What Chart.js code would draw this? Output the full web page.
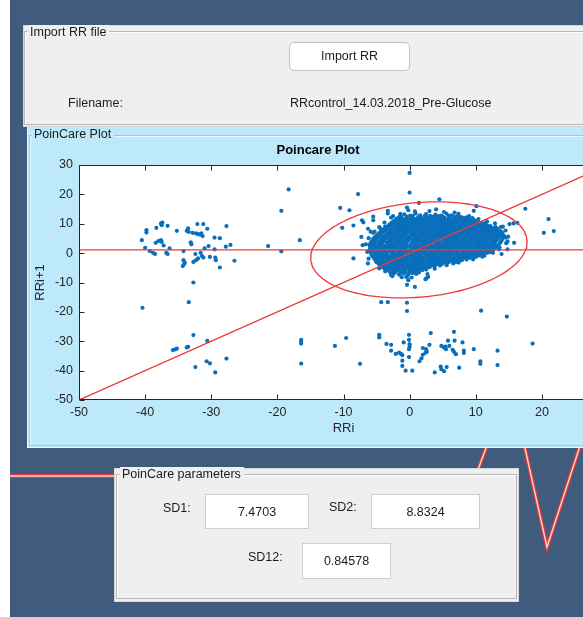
<!DOCTYPE html>
<html>
<head>
<meta charset="utf-8">
<script src="https://cdn.jsdelivr.net/npm/chart.js@4.4.1/dist/chart.umd.min.js"></script>
<style>
html, body { margin: 0; padding: 0; width: 583px; height: 617px; overflow: hidden; background: #ffffff; }
body { position: relative; font-family: "Liberation Sans", Arial, Helvetica, sans-serif; color: #1c1c1c; font-size: 12.5px; }
.abs { position: absolute; }
#bg { left: 10px; top: 0; width: 640px; height: 617px; background: #3f5c7f; }
#ecg { left: 0; top: 0; }
.panel { position: absolute; box-sizing: border-box; }
.grey { background: #efefef; border: 1px solid #d6d6d6; }
.frame { position: absolute; box-sizing: border-box; border: 1px solid #b8b8b8; box-shadow: inset 1px 1px 0 #ffffff; }
.ptitle { position: absolute; line-height: 14px; padding: 0 3px 0 2px; white-space: nowrap; }
.lbl { position: absolute; line-height: 14px; white-space: nowrap; }
.box { position: absolute; box-sizing: border-box; background: #ffffff; border: 1px solid #cdcdcd; text-align: center; }
#btn { left: 289px; top: 42px; width: 121px; height: 29px; background: #ffffff; border: 1px solid #c4c4c4; border-radius: 5px; box-sizing: border-box; text-align: center; line-height: 27px; }
#plotPanel { left: 27px; top: 127px; width: 640px; height: 321px; background: #bee9fb; border-left: 1px solid #e6f6fd; border-bottom: 1px solid #e6f6fd; }
#chartWrap { left: 28px; top: 128px; width: 612px; height: 320px; }
</style>
</head>
<body>
<div id="bg" class="abs"></div>
<canvas id="ecg" class="abs" width="583" height="617"></canvas>

<!-- file import group -->
<div class="panel grey" style="left:23px;top:25px;width:640px;height:102px;"></div>
<div class="frame" style="left:24px;top:31px;width:640px;height:94px;"></div>
<div class="ptitle" style="left:28px;top:25px;background:#efefef;">Import RR file</div>
<div id="btn" class="abs">Import RR</div>
<div class="lbl" style="left:68px;top:96px;">Filename:</div>
<div class="lbl" style="left:290px;top:96px;" id="fname"></div>

<!-- plot group -->
<div id="plotPanel" class="panel"></div>
<div class="frame" style="left:29px;top:135px;width:640px;height:311px;border-color:#a9c6d3;box-shadow: inset 1px 1px 0 #e9f8fe;"></div>
<div class="ptitle" style="left:32px;top:127px;background:#bee9fb;">PoinCare Plot</div>
<div id="chartWrap" class="abs"><canvas id="chart" width="612" height="320"></canvas></div>

<!-- parameter group -->
<div class="panel grey" style="left:114px;top:468px;width:405px;height:134px;"></div>
<div class="frame" style="left:116px;top:474px;width:401px;height:125px;"></div>
<div class="ptitle" style="left:120px;top:467px;background:#efefef;">PoinCare parameters</div>
<div class="lbl" style="left:163px;top:501px;">SD1:</div>
<div class="box" style="left:205px;top:494px;width:104px;height:35px;line-height:35px;" id="sd1"></div>
<div class="lbl" style="left:329px;top:500px;">SD2:</div>
<div class="box" style="left:371px;top:494px;width:109px;height:35px;line-height:35px;" id="sd2"></div>
<div class="lbl" style="left:248px;top:550px;">SD12:</div>
<div class="box" style="left:302px;top:543px;width:89px;height:36px;line-height:35px;" id="sd12"></div>

<script>
// ---- recording and summary values ----
const fileName = 'RRcontrol_14.03.2018_Pre-Glucose';
const SD1 = 7.4703;
const SD2 = 8.8324;
const SD12 = 0.84578;
const centerRR = [1.4, 1.1];          // mean RRi, mean RRi+1
const xTicks = [-50, -40, -30, -20, -10, 0, 10, 20, 30];
const yTicks = [-50, -40, -30, -20, -10, 0, 10, 20, 30];
const lineRange = [-50, 30];

// ---- successive differences: [RRi, RRi+1] ----
const leftGroup = [
  [-40.5,4.4],[-40.0,1.8],[-39.8,7.8],[-39.8,7.0],[-39.3,0.7],[-38.8,0.1],[-38.5,-0.3],[-38.3,8.6],
  [-38.4,3.5],[-38.0,4.1],[-37.6,4.4],[-37.5,3.8],[-37.6,10.1],[-37.5,9.5],[-37.4,10.4],[-37.2,2.6],
  [-36.6,9.3],[-36.8,0.1],[-36.6,-0.3],[-36.3,1.6],[-35.2,7.6],[-34.2,0.7],[-33.5,8.4],[-33.4,7.2],
  [-33.7,7.6],[-32.8,6.9],[-32.3,6.7],[-32.0,6.5],[-31.7,6.3],[-32.1,9.9],[-31.2,9.9],[-31.5,6.7],
  [-31.3,5.8],[-30.6,8.3],[-33.1,3.7],[-33.0,3.0],[-34.2,-2.4],[-34.0,-3.3],[-34.3,-4.4],[-34.1,-3.7],
  [-32.7,-3.0],[-32.3,-2.4],[-32.0,-1.8],[-32.4,-0.3],[-31.6,0.1],[-31.4,-1.0],[-31.2,-1.5],[-31.0,1.6],
  [-30.4,2.4],[-30.2,-1.3],[-29.5,1.3],[-29.3,-2.4],[-29.4,-1.5],[-29.5,5.3],[-28.7,5.1],[-28.7,-4.9],
  [-27.8,2.2],[-27.1,2.8],[-27.7,9.2],[-26.5,-2.6]
];
const scattered = [
  [-21.4,2.4],[-19.4,14.4],[-19.4,0.6],[-18.3,21.7],[-16.6,4.4],[-40.4,-18.6],[-32.7,-10.0],[-33.4,-16.7],
  [-10.5,15.4],[-9.1,14.6],[-7.8,20.1],[-10.2,8.6],[-8.5,9.4],[-8.5,-1.8],[-7.2,11.2],[-7.0,10.5],
  [-5.5,12.4],[-5.5,11.2],[-3.3,14.4],[-3.3,13.5],[-6.3,8.3],[-5.9,7.3],[-5.5,6.9],[-7.3,5.5],
  [-7.1,2.7],[-6.3,-3.5],[-0.4,15.5],[-0.2,14.6],[1.4,17.1],[-2.5,12.6],[-1.5,12.4],[-4.4,8.3],
  [-3.7,9.0],[0.0,27.3],[0.0,20.6],[-0.5,-8.1],[-0.2,-9.2],[-0.4,-10.8],[0.8,-11.5],[2.4,-8.9],
  [2.8,-8.1],[-3.0,-6.4],[-2.8,-7.5],[4.5,18.3],[17.5,15.1],[21.0,11.6],[20.3,6.9],[21.8,7.5],
  [10.1,16.0],[9.7,14.4],[15.8,3.5],[13.9,-0.3],[11.0,-1.2],[14.8,1.3],[13.6,1.9],[15.1,9.9],
  [15.7,10.1],[16.3,10.3],[14.1,9.0],[14.5,5.3],[14.8,4.0],[2.5,-8.6],[2.7,-7.1],[7.9,-2.4],
  [7.0,-3.0],[6.6,-3.5],[6.8,13.8],[4.0,14.9]
];
const lowerGroup = [
  [-32.7,-27.9],[-30.6,-29.9],[-35.8,-33.0],[-35.5,-32.8],[-35.2,-32.5],[-33.7,-32.1],[-33.5,-31.9],
  [-32.4,-38.8],[-30.7,-36.8],[-30.2,-37.5],[-29.4,-40.6],[-27.7,-35.9],[-16.4,-29.5],[-16.4,-30.2],
  [-16.4,-30.8],[-16.4,-37.6],[-4.3,-16.7],[-3.3,-16.7],[-0.4,-16.9],[-0.4,-19.7],[10.8,-19.6],
  [14.7,-21.6],[-11.3,-31.6],[-9.6,-28.9],[-7.5,-37.7],[-4.6,-27.8],[-4.6,-28.7],[-3.5,-30.9],
  [-2.8,-31.2],[-2.8,-33.2],[-2.1,-34.3],[-1.6,-33.9],[-1.3,-34.3],[-1.1,-34.7],[-1.1,-36.6],
  [-1.1,-38.4],[-0.6,-40.0],[0.4,-40.0],[-0.9,-30.4],[-0.1,-27.8],[-0.1,-29.5],[0.0,-31.0],
  [0.0,-31.9],[-0.1,-32.7],[-0.1,-35.4],[1.5,-36.8],[1.8,-35.8],[2.0,-34.6],[2.0,-32.3],[2.5,-32.7],
  [2.6,-33.6],[2.4,-33.9],[3.0,-31.2],[3.2,-27.2],[3.8,-40.6],[4.7,-38.6],[4.8,-39.5],[5.2,-40.2],
  [5.6,-38.8],[4.8,-31.6],[5.2,-32.1],[5.5,-32.7],[5.4,-31.8],[5.8,-29.8],[6.0,-31.6],[6.5,-32.9],
  [6.7,-33.6],[7.0,-34.4],[6.7,-26.8],[6.8,-29.8],[7.5,-39.0],[8.0,-30.4],[8.2,-33.2],[8.2,-34.0],
  [9.7,-32.7],[10.7,-36.8],[10.7,-37.7],[13.3,-33.2],[13.3,-38.1],[18.6,-30.8]
];
const clusterCore = [
  [-0.8,13.2],[0.1,12.8],[0.9,13.5],[1.6,12.9],[2.5,13.3],[3.1,12.7],[3.9,13.1],[4.8,12.8],[5.6,13.4],[6.3,12.9],[7.2,12.6],[7.9,12.2],
  [-1.9,11.8],[-1.2,12.2],[-0.6,11.7],[0.3,12.1],[0.8,11.6],[1.3,12.3],[2.0,11.9],[2.7,12.2],[3.4,11.7],[4.1,12.1],[4.6,11.6],[5.3,12.0],[6.0,11.8],[6.8,12.2],[7.5,11.6],[8.2,11.9],[9.0,11.5],[9.5,11.9],
  [-2.4,10.9],[-1.8,10.6],[-1.1,11.2],[-0.5,10.7],[0.2,11.0],[0.7,10.5],[1.2,11.1],[1.9,10.8],[2.4,11.3],[3.0,10.6],[3.6,11.0],[4.3,10.7],[4.9,11.2],[5.5,10.6],[6.2,11.0],[6.8,10.7],[7.4,11.1],[8.1,10.6],[8.7,11.0],[9.3,10.5],[9.9,10.9],[10.5,10.4],
  [-3.0,9.8],[-2.4,10.2],[-1.7,9.7],[-1.1,10.1],[-0.5,9.6],[0.1,10.0],[0.6,9.5],[1.2,10.2],[1.8,9.8],[2.3,10.1],[2.9,9.6],[3.5,10.0],[4.1,9.7],[4.7,10.2],[5.2,9.6],[5.8,10.0],[6.4,9.7],[7.0,10.1],[7.6,9.5],[8.1,9.9],[8.7,10.2],[9.3,9.6],[9.9,10.0],[10.5,9.5],[11.1,9.9],[11.7,9.4],
  [-3.4,8.8],[-2.9,9.2],[-2.2,8.7],[-1.6,9.1],[-1.0,8.6],[-0.4,9.0],[0.3,8.8],[0.9,9.2],[1.5,8.6],[2.0,9.0],[2.6,8.7],[3.2,9.1],[3.8,8.6],[4.4,8.9],[5.0,9.2],[5.5,8.7],[6.1,9.0],[6.7,8.6],[7.3,9.1],[7.9,8.8],[8.4,9.2],[9.0,8.7],[9.6,9.0],[10.2,8.6],[10.8,9.1],[11.3,8.7],[11.9,9.0],[12.5,8.6],[13.0,8.9],
  [-4.0,7.9],[-3.4,8.2],[-2.8,7.7],[-2.2,8.1],[-1.6,7.6],[-1.0,8.0],[-0.4,7.8],[0.2,8.2],[0.8,7.6],[1.4,8.0],[2.0,7.7],[2.5,8.1],[3.1,7.6],[3.7,8.0],[4.3,7.8],[4.9,8.2],[5.4,7.6],[6.0,8.0],[6.6,7.7],[7.2,8.1],[7.7,7.6],[8.3,8.0],[8.9,7.7],[9.5,8.1],[10.1,7.6],[10.6,8.0],[11.2,7.7],[11.8,8.1],[12.4,7.6],[13.0,7.9],[13.5,7.5],
  [-4.6,6.8],[-4.0,7.1],[-3.3,6.6],[-2.7,7.0],[-2.1,6.7],[-1.5,7.2],[-0.9,6.6],[-0.3,7.0],[0.4,6.7],[1.0,7.1],[1.6,6.6],[2.2,7.0],[2.8,6.8],[3.4,7.2],[4.0,6.6],[4.6,7.0],[5.2,6.7],[5.8,7.1],[6.4,6.6],[7.0,7.0],[7.5,6.8],[8.1,7.2],[8.7,6.6],[9.3,7.0],[9.9,6.7],[10.5,7.1],[11.0,6.6],[11.6,7.0],[12.2,6.7],[12.8,7.1],[13.4,6.6],[14.0,6.9],
  [-5.0,5.9],[-4.4,6.2],[-3.8,5.7],[-3.1,6.1],[-2.5,5.6],[-1.9,6.0],[-1.3,5.8],[-0.6,6.2],[0.0,5.6],[0.6,6.0],[1.2,5.7],[1.8,6.1],[2.4,5.6],[3.0,6.0],[3.6,5.8],[4.2,6.2],[4.8,5.6],[5.4,6.0],[6.0,5.7],[6.6,6.1],[7.2,5.6],[7.8,6.0],[8.4,5.8],[9.0,6.2],[9.6,5.6],[10.2,6.0],[10.8,5.7],[11.4,6.1],[12.0,5.6],[12.6,6.0],[13.2,5.8],[13.8,6.1],[14.3,5.7],
  [-5.5,4.9],[-4.9,5.2],[-4.3,4.7],[-3.6,5.1],[-3.0,4.6],[-2.4,5.0],[-1.8,4.8],[-1.2,5.2],[-0.5,4.6],[0.1,5.0],[0.7,4.7],[1.3,5.1],[1.9,4.6],[2.5,5.0],[3.1,4.8],[3.7,5.2],[4.3,4.6],[4.9,5.0],[5.5,4.7],[6.1,5.1],[6.7,4.6],[7.3,5.0],[7.9,4.8],[8.5,5.2],[9.1,4.6],[9.7,5.0],[10.3,4.7],[10.9,5.1],[11.5,4.6],[12.1,5.0],[12.7,4.8],[13.3,5.1],[13.9,4.6],
  [-5.8,3.8],[-5.2,4.1],[-4.6,3.6],[-4.0,4.0],[-3.4,3.7],[-2.7,4.1],[-2.1,3.6],[-1.5,4.0],[-0.9,3.8],[-0.3,4.2],[0.4,3.6],[1.0,4.0],[1.6,3.7],[2.2,4.1],[2.8,3.6],[3.4,4.0],[4.0,3.8],[4.6,4.2],[5.2,3.6],[5.8,4.0],[6.4,3.7],[7.0,4.1],[7.6,3.6],[8.2,4.0],[8.8,3.8],[9.4,4.2],[10.0,3.6],[10.6,4.0],[11.2,3.7],[11.8,4.1],[12.4,3.6],[13.0,4.0],[13.7,3.7],
  [-6.0,2.9],[-5.4,3.2],[-4.8,2.7],[-4.2,3.1],[-3.6,2.6],[-3.0,3.0],[-2.4,2.8],[-1.8,3.2],[-1.2,2.6],[-0.6,3.0],[0.1,2.7],[0.7,3.1],[1.3,2.6],[1.9,3.0],[2.5,2.8],[3.1,3.2],[3.7,2.6],[4.3,3.0],[4.9,2.7],[5.5,3.1],[6.1,2.6],[6.7,3.0],[7.3,2.8],[7.9,3.2],[8.5,2.6],[9.1,3.0],[9.7,2.7],[10.3,3.1],[10.9,2.6],[11.5,3.0],[12.1,2.8],[12.7,3.1],[13.3,2.6],
  [-5.9,1.8],[-5.3,2.1],[-4.7,1.6],[-4.1,2.0],[-3.5,1.7],[-2.8,2.1],[-2.2,1.6],[-1.6,2.0],[-1.0,1.8],[-0.4,2.2],[0.3,1.6],[0.9,2.0],[1.5,1.7],[2.1,2.1],[2.7,1.6],[3.3,2.0],[3.9,1.8],[4.5,2.2],[5.1,1.6],[5.7,2.0],[6.3,1.7],[6.9,2.1],[7.5,1.6],[8.1,2.0],[8.7,1.8],[9.3,2.2],[9.9,1.6],[10.5,2.0],[11.1,1.7],[11.7,2.1],[12.3,1.6],[12.9,1.9],
  [-6.1,0.9],[-5.5,1.2],[-4.9,0.7],[-4.3,1.1],[-3.7,0.6],[-3.1,1.0],[-2.5,0.8],[-1.9,1.2],[-1.3,0.6],[-0.7,1.0],[0.0,0.7],[0.6,1.1],[1.2,0.6],[1.8,1.0],[2.4,0.8],[3.0,1.2],[3.6,0.6],[4.2,1.0],[4.8,0.7],[5.4,1.1],[6.0,0.6],[6.6,1.0],[7.2,0.8],[7.8,1.2],[8.4,0.6],[9.0,1.0],[9.6,0.7],[10.2,1.1],[10.8,0.6],[11.4,1.0],[12.0,0.8],[12.6,1.1],
  [-5.8,-0.2],[-5.2,0.1],[-4.6,-0.4],[-4.0,0.0],[-3.4,-0.3],[-2.7,0.1],[-2.1,-0.4],[-1.5,0.0],[-0.9,-0.2],[-0.3,0.2],[0.4,-0.4],[1.0,0.0],[1.6,-0.3],[2.2,0.1],[2.8,-0.4],[3.4,0.0],[4.0,-0.2],[4.6,0.2],[5.2,-0.4],[5.8,0.0],[6.4,-0.3],[7.0,0.1],[7.6,-0.4],[8.2,0.0],[8.8,-0.2],[9.4,0.2],[10.0,-0.4],[10.6,0.0],[11.2,-0.3],[11.7,0.1],
  [-5.6,-1.1],[-5.0,-0.8],[-4.4,-1.3],[-3.8,-0.9],[-3.2,-1.4],[-2.6,-1.0],[-2.0,-1.2],[-1.4,-0.8],[-0.8,-1.4],[-0.1,-1.0],[0.5,-1.3],[1.1,-0.9],[1.7,-1.4],[2.3,-1.0],[2.9,-1.2],[3.5,-0.8],[4.1,-1.4],[4.7,-1.0],[5.3,-1.3],[5.9,-0.9],[6.5,-1.4],[7.1,-1.0],[7.7,-1.2],[8.3,-0.8],[8.9,-1.3],[9.5,-0.9],[10.1,-1.2],[10.6,-0.8],
  [-5.3,-2.0],[-4.7,-2.3],[-4.1,-1.8],[-3.5,-2.2],[-2.9,-1.7],[-2.3,-2.1],[-1.7,-1.9],[-1.1,-2.3],[-0.4,-1.7],[0.2,-2.1],[0.8,-1.8],[1.4,-2.2],[2.0,-1.7],[2.6,-2.1],[3.2,-1.9],[3.8,-2.3],[4.4,-1.7],[5.0,-2.1],[5.6,-1.8],[6.2,-2.2],[6.8,-1.7],[7.4,-2.1],[8.0,-1.9],[8.6,-2.2],
  [-5.0,-3.1],[-4.4,-2.8],[-3.8,-3.3],[-3.2,-2.9],[-2.6,-3.4],[-2.0,-3.0],[-1.4,-3.2],[-0.8,-2.8],[-0.1,-3.4],[0.5,-3.0],[1.1,-3.3],[1.7,-2.9],[2.3,-3.4],[2.9,-3.0],[3.5,-3.2],[4.1,-2.8],[4.7,-3.3],[5.3,-2.9],[5.9,-3.1],[6.5,-2.7],
  [-4.5,-4.0],[-3.9,-4.3],[-3.3,-3.8],[-2.7,-4.2],[-2.1,-3.7],[-1.5,-4.1],[-0.9,-3.9],[-0.3,-4.3],[0.4,-3.7],[1.0,-4.1],[1.6,-3.8],[2.2,-4.2],[2.8,-3.7],[3.4,-4.1],[4.0,-3.9],[4.6,-4.2],
  [-3.9,-5.1],[-3.3,-4.8],[-2.7,-5.3],[-2.1,-4.9],[-1.5,-5.4],[-0.9,-5.0],[-0.3,-5.2],[0.4,-4.8],[1.0,-5.3],[1.6,-4.9],[2.2,-5.1],[2.9,-4.8],
  [-3.1,-6.0],[-2.4,-6.3],[-1.8,-5.8],[-1.2,-6.2],[-0.6,-5.9],[0.0,-6.3],[0.6,-5.8],[1.2,-6.1],[1.9,-5.8],
  [-2.4,-7.0],[-1.6,-7.3],[-0.9,-6.9],[-0.2,-7.2],[0.5,-6.8],[1.0,-7.1]
];
const clusterFill = [
  [-1.4,12.6],[-0.4,12.4],[0.5,12.7],[1.5,12.5],[2.3,12.7],[3.6,12.4],[4.4,12.6],[5.0,12.4],[5.9,12.6],[6.6,12.4],[7.6,12.3],[8.6,12.2],
  [-2.1,11.4],[-1.5,11.6],[-0.8,11.3],[-0.2,11.5],[0.5,11.3],[1.0,11.6],[1.6,11.4],[2.3,11.6],[2.9,11.3],[3.3,11.5],[3.9,11.3],[4.6,11.6],[5.2,11.4],[5.8,11.5],[6.5,11.3],[7.1,11.6],[7.8,11.3],[8.4,11.5],[9.1,11.2],[9.7,11.3],[10.2,11.0],
  [-2.7,10.4],[-2.1,10.6],[-1.4,10.3],[-0.8,10.5],[-0.2,10.3],[0.4,10.6],[0.9,10.3],[1.5,10.5],[2.1,10.4],[2.6,10.6],[3.3,10.3],[3.9,10.5],[4.5,10.3],[5.0,10.6],[5.6,10.4],[6.1,10.5],[6.7,10.3],[7.3,10.6],[7.9,10.3],[8.4,10.5],[9.0,10.3],[9.6,10.5],[10.2,10.2],[10.8,10.3],[11.3,10.1],
  [-3.2,9.4],[-2.6,9.6],[-2.0,9.3],[-1.4,9.5],[-0.8,9.3],[-0.1,9.6],[0.5,9.3],[1.0,9.6],[1.6,9.4],[2.2,9.5],[2.8,9.3],[3.4,9.6],[4.0,9.3],[4.6,9.5],[5.1,9.4],[5.7,9.6],[6.3,9.3],[6.9,9.5],[7.5,9.3],[8.0,9.6],[8.6,9.4],[9.2,9.5],[9.8,9.3],[10.4,9.5],[11.0,9.3],[11.6,9.5],[12.2,9.2],
  [-3.7,8.4],[-3.1,8.6],[-2.5,8.3],[-1.9,8.5],[-1.3,8.3],[-0.7,8.6],[-0.1,8.3],[0.5,8.5],[1.1,8.4],[1.7,8.6],[2.3,8.3],[2.8,8.5],[3.4,8.3],[4.0,8.6],[4.6,8.4],[5.2,8.5],[5.7,8.3],[6.3,8.6],[6.9,8.3],[7.5,8.5],[8.0,8.4],[8.6,8.6],[9.2,8.3],[9.8,8.5],[10.4,8.3],[10.9,8.6],[11.5,8.4],[12.1,8.5],[12.7,8.2],[13.3,8.3],
  [-4.3,7.4],[-3.7,7.6],[-3.1,7.3],[-2.5,7.5],[-1.9,7.3],[-1.3,7.6],[-0.7,7.3],[-0.1,7.5],[0.5,7.4],[1.1,7.6],[1.7,7.3],[2.3,7.5],[2.9,7.3],[3.5,7.6],[4.1,7.4],[4.6,7.5],[5.2,7.3],[5.8,7.6],[6.3,7.3],[6.9,7.5],[7.5,7.4],[8.0,7.6],[8.6,7.3],[9.2,7.5],[9.8,7.3],[10.3,7.6],[10.9,7.4],[11.5,7.5],[12.1,7.3],[12.7,7.6],[13.2,7.3],[13.8,7.4],
  [-4.8,6.4],[-4.2,6.6],[-3.5,6.3],[-2.9,6.5],[-2.3,6.3],[-1.7,6.6],[-1.1,6.3],[-0.5,6.5],[0.2,6.4],[0.8,6.6],[1.4,6.3],[2.0,6.5],[2.6,6.3],[3.2,6.6],[3.8,6.4],[4.4,6.5],[5.0,6.3],[5.6,6.6],[6.2,6.3],[6.8,6.5],[7.4,6.4],[8.0,6.6],[8.6,6.3],[9.2,6.5],[9.8,6.3],[10.4,6.6],[11.0,6.4],[11.6,6.5],[12.2,6.3],[12.8,6.6],[13.4,6.3],[14.1,6.4],
  [-5.3,5.4],[-4.7,5.6],[-4.1,5.3],[-3.4,5.5],[-2.8,5.3],[-2.2,5.6],[-1.6,5.3],[-0.9,5.5],[-0.3,5.4],[0.3,5.6],[0.9,5.3],[1.5,5.5],[2.1,5.3],[2.7,5.6],[3.3,5.4],[3.9,5.5],[4.5,5.3],[5.1,5.6],[5.7,5.3],[6.3,5.5],[6.9,5.4],[7.5,5.6],[8.1,5.3],[8.7,5.5],[9.3,5.3],[9.9,5.6],[10.5,5.4],[11.1,5.5],[11.7,5.3],[12.3,5.6],[12.9,5.3],[13.5,5.5],[14.1,5.2],
  [-5.6,4.4],[-5.0,4.6],[-4.4,4.3],[-3.8,4.5],[-3.1,4.3],[-2.5,4.6],[-1.9,4.3],[-1.3,4.5],[-0.7,4.4],[0.0,4.6],[0.6,4.3],[1.2,4.5],[1.8,4.3],[2.4,4.6],[3.0,4.4],[3.6,4.5],[4.2,4.3],[4.8,4.6],[5.4,4.3],[6.0,4.5],[6.6,4.4],[7.2,4.6],[7.8,4.3],[8.4,4.5],[9.0,4.3],[9.6,4.6],[10.2,4.4],[10.8,4.5],[11.4,4.3],[12.0,4.6],[12.6,4.3],[13.2,4.5],[13.9,4.2],
  [-5.9,3.4],[-5.3,3.6],[-4.7,3.3],[-4.1,3.5],[-3.4,3.3],[-2.8,3.6],[-2.2,3.3],[-1.6,3.5],[-1.0,3.4],[-0.4,3.6],[0.3,3.3],[0.9,3.5],[1.5,3.3],[2.1,3.6],[2.7,3.4],[3.3,3.5],[3.9,3.3],[4.5,3.6],[5.1,3.3],[5.7,3.5],[6.3,3.4],[6.9,3.6],[7.5,3.3],[8.1,3.5],[8.7,3.3],[9.3,3.6],[9.9,3.4],[10.5,3.5],[11.1,3.3],[11.7,3.6],[12.3,3.3],[12.9,3.5],[13.6,3.2],
  [-6.0,2.4],[-5.4,2.6],[-4.8,2.3],[-4.2,2.5],[-3.6,2.3],[-3.0,2.6],[-2.4,2.3],[-1.8,2.5],[-1.2,2.4],[-0.6,2.6],[0.1,2.3],[0.7,2.5],[1.3,2.3],[1.9,2.6],[2.5,2.4],[3.1,2.5],[3.7,2.3],[4.3,2.6],[4.9,2.3],[5.5,2.5],[6.1,2.4],[6.7,2.6],[7.3,2.3],[7.9,2.5],[8.5,2.3],[9.1,2.6],[9.7,2.4],[10.3,2.5],[10.9,2.3],[11.5,2.6],[12.1,2.3],[12.7,2.5],[13.1,2.2],
  [-6.0,1.4],[-5.4,1.6],[-4.8,1.3],[-4.2,1.5],[-3.6,1.3],[-3.0,1.6],[-2.4,1.3],[-1.8,1.5],[-1.2,1.4],[-0.6,1.6],[0.1,1.3],[0.7,1.5],[1.3,1.3],[1.9,1.6],[2.5,1.4],[3.1,1.5],[3.7,1.3],[4.3,1.6],[4.9,1.3],[5.5,1.5],[6.1,1.4],[6.7,1.6],[7.3,1.3],[7.9,1.5],[8.5,1.3],[9.1,1.6],[9.7,1.4],[10.3,1.5],[10.9,1.3],[11.5,1.6],[12.1,1.3],[12.7,1.4],
  [-5.9,0.4],[-5.3,0.6],[-4.7,0.3],[-4.1,0.5],[-3.5,0.3],[-2.9,0.6],[-2.3,0.3],[-1.7,0.5],[-1.1,0.4],[-0.5,0.6],[0.2,0.3],[0.8,0.5],[1.4,0.3],[2.0,0.6],[2.6,0.4],[3.2,0.5],[3.8,0.3],[4.4,0.6],[5.0,0.3],[5.6,0.5],[6.2,0.4],[6.8,0.6],[7.4,0.3],[8.0,0.5],[8.6,0.3],[9.2,0.6],[9.8,0.4],[10.4,0.5],[11.0,0.3],[11.6,0.6],[12.1,0.3],
  [-5.7,-0.6],[-5.1,-0.4],[-4.5,-0.7],[-3.9,-0.5],[-3.3,-0.7],[-2.7,-0.4],[-2.1,-0.7],[-1.5,-0.5],[-0.9,-0.6],[-0.3,-0.4],[0.4,-0.7],[1.0,-0.5],[1.6,-0.7],[2.2,-0.4],[2.8,-0.6],[3.4,-0.5],[4.0,-0.7],[4.6,-0.4],[5.2,-0.7],[5.8,-0.5],[6.4,-0.6],[7.0,-0.4],[7.6,-0.7],[8.2,-0.5],[8.8,-0.7],[9.4,-0.4],[10.0,-0.6],[10.6,-0.5],[11.2,-0.7],
  [-5.4,-1.6],[-4.8,-1.4],[-4.2,-1.7],[-3.6,-1.5],[-3.0,-1.7],[-2.4,-1.4],[-1.8,-1.7],[-1.2,-1.5],[-0.6,-1.6],[0.1,-1.4],[0.7,-1.7],[1.3,-1.5],[1.9,-1.7],[2.5,-1.4],[3.1,-1.6],[3.7,-1.5],[4.3,-1.7],[4.9,-1.4],[5.5,-1.7],[6.1,-1.5],[6.7,-1.6],[7.3,-1.4],[7.9,-1.7],[8.5,-1.5],[9.1,-1.6],[9.7,-1.4],
  [-5.1,-2.6],[-4.5,-2.4],[-3.9,-2.7],[-3.3,-2.5],[-2.7,-2.7],[-2.1,-2.4],[-1.5,-2.7],[-0.9,-2.5],[-0.3,-2.6],[0.4,-2.4],[1.0,-2.7],[1.6,-2.5],[2.2,-2.7],[2.8,-2.4],[3.4,-2.6],[4.0,-2.5],[4.6,-2.7],[5.2,-2.4],[5.8,-2.7],[6.4,-2.5],[7.0,-2.6],[7.6,-2.4],
  [-4.7,-3.6],[-4.1,-3.4],[-3.5,-3.7],[-2.9,-3.5],[-2.3,-3.7],[-1.7,-3.4],[-1.1,-3.7],[-0.5,-3.5],[0.1,-3.6],[0.7,-3.4],[1.3,-3.7],[1.9,-3.5],[2.5,-3.7],[3.1,-3.4],[3.7,-3.6],[4.3,-3.5],[4.9,-3.7],[5.5,-3.4],
  [-4.2,-4.6],[-3.6,-4.4],[-3.0,-4.7],[-2.4,-4.5],[-1.8,-4.7],[-1.2,-4.4],[-0.6,-4.7],[0.1,-4.5],[0.7,-4.6],[1.3,-4.4],[1.9,-4.7],[2.5,-4.5],[3.1,-4.6],[3.7,-4.4],
  [-3.5,-5.6],[-2.9,-5.4],[-2.3,-5.7],[-1.7,-5.5],[-1.1,-5.7],[-0.5,-5.4],[0.2,-5.7],[0.8,-5.5],[1.4,-5.6],[2.0,-5.4],[2.5,-5.6],
  [-2.8,-6.6],[-2.1,-6.4],[-1.4,-6.7],[-0.7,-6.5],[0.0,-6.7],[0.7,-6.4],[1.4,-6.6]
];
const clusterEdge = [
  [-1.2,-8.2],[-0.4,-7.9],[0.3,-8.3],[-2.6,-7.8],[-3.7,-6.2],[-4.6,-5.2],[3.8,-5.3],[5.6,-4.1],
  [7.4,-3.2],[9.6,-2.1],[11.3,-0.9],[12.6,0.1],[13.5,1.3],[14.6,3.4],[14.9,5.6],[14.5,7.7],
  [13.8,8.9],[12.9,10.1],[11.7,10.8],[10.4,11.6],[9.0,12.6],[7.4,13.4],[5.2,14.0],[3.0,14.3],
  [0.8,14.2],[-1.4,13.4],[-2.8,12.1],[-3.8,10.4],[-4.6,8.9],[-5.3,7.3],[-6.2,5.1],[-6.6,3.0],
  [-6.4,0.4],[-6.2,-1.9]
];

document.getElementById('fname').textContent = fileName;
document.getElementById('sd1').textContent = SD1.toFixed(4);
document.getElementById('sd2').textContent = SD2.toFixed(4);
document.getElementById('sd12').textContent = String(SD12);

// ---- background trace ----
(function drawTrace() {
  const c = document.getElementById('ecg').getContext('2d');
  const path = [[10,476],[475.7,476],[493,429],[520.7,429],[547,547],[579,449],[586,428]];
  c.lineJoin = 'miter';
  c.beginPath();
  path.forEach((p, i) => i ? c.lineTo(p[0], p[1]) : c.moveTo(p[0], p[1]));
  c.strokeStyle = '#dd3a3a'; c.lineWidth = 4; c.stroke();
  c.strokeStyle = '#f7d4d4'; c.lineWidth = 1.4; c.stroke();
})();

// ---- chart ----
const FONT = '"Liberation Sans", Arial, Helvetica, sans-serif';
const AX = '#262626';
const toXY = arr => arr.map(p => ({ x: p[0], y: p[1] }));

const allPoints = [].concat(leftGroup, scattered, lowerGroup, clusterCore, clusterFill, clusterEdge);

// SD ellipse: semi-axes 2*SD2 along the identity line, 2*SD1 across it
const ellipse = [];
for (let k = 0; k <= 180; k++) {
  const t = k / 180 * 2 * Math.PI;
  const a = 2 * SD2 * Math.cos(t), b = 2 * SD1 * Math.sin(t);
  ellipse.push({ x: centerRR[0] + (a - b) / Math.SQRT2, y: centerRR[1] + (a + b) / Math.SQRT2 });
}

const axesBox = {
  id: 'axesBox',
  beforeDatasetsDraw(chart) {
    const { ctx, chartArea: a } = chart;
    ctx.save();
    ctx.fillStyle = '#ffffff';
    ctx.fillRect(a.left, a.top, a.right - a.left, a.bottom - a.top);
    ctx.restore();
  },
  afterDatasetsDraw(chart) {
    const { ctx, chartArea: a, scales: { x, y } } = chart;
    const L = Math.round(a.left) + 0.5, R = Math.round(a.right) - 0.5;
    const T = Math.round(a.top) + 0.5, B = Math.round(a.bottom) - 0.5;
    const len = 5;
    ctx.save();
    ctx.strokeStyle = AX;
    ctx.lineWidth = 1;
    ctx.beginPath();
    ctx.rect(L, T, R - L, B - T);
    x.ticks.forEach(t => {
      const px = Math.round(x.getPixelForValue(t.value)) + 0.5;
      ctx.moveTo(px, B); ctx.lineTo(px, B - len);
      ctx.moveTo(px, T); ctx.lineTo(px, T + len);
    });
    y.ticks.forEach(t => {
      const py = Math.round(y.getPixelForValue(t.value)) + 0.5;
      ctx.moveTo(L, py); ctx.lineTo(L + len, py);
      ctx.moveTo(R, py); ctx.lineTo(R - len, py);
    });
    ctx.stroke();
    ctx.restore();
  }
};

const redLine = {
  type: 'line', showLine: true, fill: false, tension: 0,
  pointRadius: 0, borderColor: '#ec3a3a', borderWidth: 1.3, order: 0
};

new Chart(document.getElementById('chart'), {
  type: 'scatter',
  data: {
    datasets: [
      Object.assign({ data: ellipse }, redLine),
      Object.assign({ data: [{ x: lineRange[0], y: lineRange[0] }, { x: lineRange[1], y: lineRange[1] }] }, redLine),
      Object.assign({ data: [{ x: lineRange[0], y: centerRR[1] }, { x: lineRange[1], y: centerRR[1] }] }, redLine),
      {
        data: toXY(allPoints), order: 1,
        pointRadius: 2.1, pointBorderWidth: 0,
        backgroundColor: '#0a6fbb', borderColor: '#0a6fbb'
      }
    ]
  },
  options: {
    responsive: false,
    animation: false,
    devicePixelRatio: 1,
    layout: { padding: { left: 0, right: 32, top: 0, bottom: 0 } },
    plugins: {
      legend: { display: false },
      tooltip: { enabled: false },
      title: {
        display: true, text: 'Poincare Plot', color: '#000000',
        font: { family: FONT, size: 13, weight: 'bold' },
        padding: { top: 14.4, bottom: 7 }
      }
    },
    scales: {
      x: {
        type: 'linear', min: xTicks[0], max: xTicks[xTicks.length - 1],
        grid: { display: false, drawTicks: false }, border: { display: false },
        afterBuildTicks: s => { s.ticks = xTicks.map(v => ({ value: v })); },
        afterFit: s => { s.height = 48; },
        ticks: { color: AX, font: { family: FONT, size: 12.5 }, padding: 5, maxRotation: 0, autoSkip: false },
        title: { display: true, text: 'RRi', color: AX, font: { family: FONT, size: 13 }, padding: { top: 0, bottom: 11.6 } }
      },
      y: {
        type: 'linear', min: yTicks[0], max: yTicks[yTicks.length - 1],
        grid: { display: false, drawTicks: false }, border: { display: false },
        afterBuildTicks: s => { s.ticks = yTicks.map(v => ({ value: v })); },
        afterFit: s => { s.width = 51; },
        ticks: { color: AX, font: { family: FONT, size: 12.5 }, padding: 6, autoSkip: false },
        title: { display: true, text: 'RRi+1', color: AX, font: { family: FONT, size: 13 }, padding: { top: 5, bottom: 0 } }
      }
    }
  },
  plugins: [axesBox]
});
</script>
</body>
</html>
